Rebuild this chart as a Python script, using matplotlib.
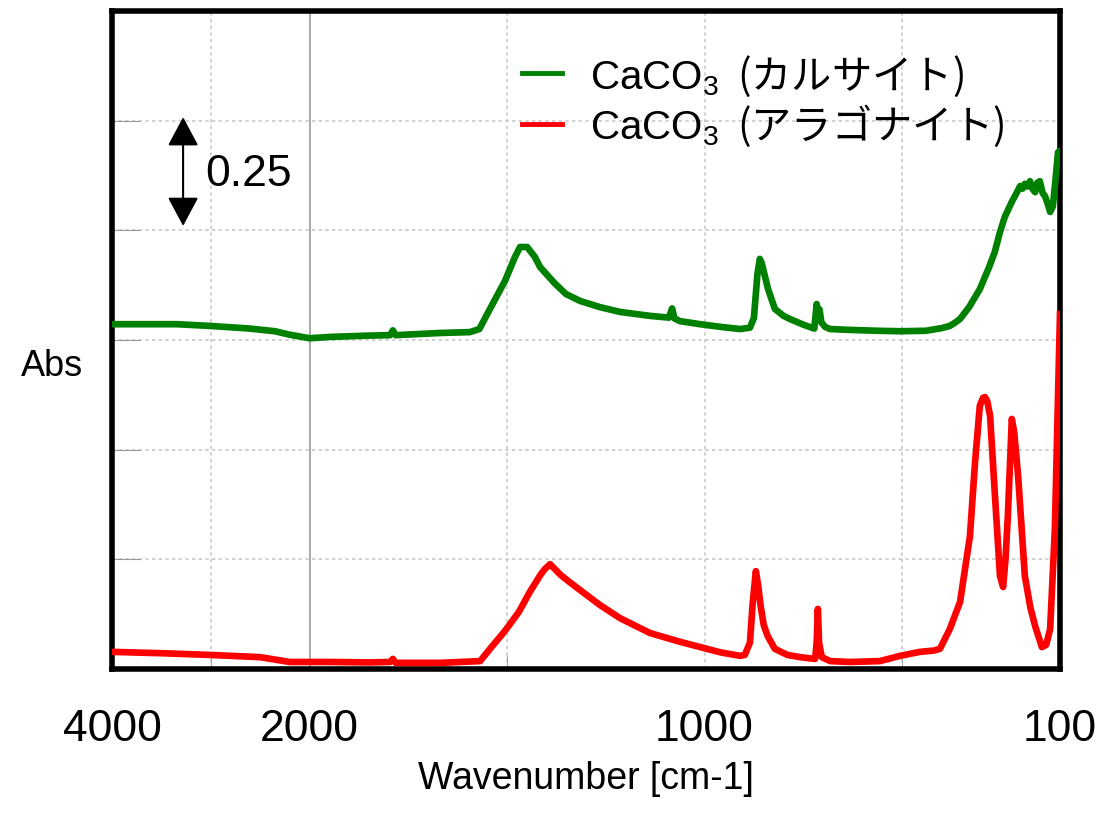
import numpy as np
import matplotlib
matplotlib.use("Agg")
import matplotlib.pyplot as plt
from matplotlib.font_manager import FontProperties

# ---------------- data ----------------
calcite_wn = [4000, 3340, 3000, 2600, 2350, 2200, 2000, 1948, 1850, 1796, 1789, 1782, 1670,
              1594, 1570, 1543, 1505, 1480, 1467, 1449, 1430, 1416, 1380, 1351, 1315, 1265,
              1214, 1138, 1090, 1082, 1076, 1062, 1011, 960, 910, 885, 875, 866, 860, 855, 847,
              839, 822, 800, 784, 750, 722, 716, 712, 709, 704, 695, 682, 632, 560, 505, 440,
              400, 379, 365, 353, 330, 303, 280, 265, 252, 240, 222, 210, 201, 195, 189, 183,
              176, 170, 163, 158, 151, 144, 138, 131, 125, 118, 112, 105, 100]
calcite_abs = [0.786, 0.786, 0.782, 0.776, 0.770, 0.762, 0.754, 0.757, 0.760, 0.761, 0.772,
               0.761, 0.766, 0.768, 0.775, 0.821, 0.885, 0.939, 0.962, 0.962, 0.940, 0.916,
               0.880, 0.855, 0.839, 0.825, 0.814, 0.805, 0.801, 0.822, 0.799, 0.793, 0.786,
               0.780, 0.775, 0.778, 0.800, 0.900, 0.935, 0.925, 0.895, 0.866, 0.821, 0.805,
               0.798, 0.785, 0.776, 0.832, 0.812, 0.820, 0.790, 0.780, 0.775, 0.773, 0.771,
               0.770, 0.771, 0.777, 0.782, 0.790, 0.798, 0.825, 0.866, 0.915, 0.951, 0.996,
               1.030, 1.065, 1.085, 1.101, 1.095, 1.106, 1.100, 1.112, 1.095, 1.087, 1.108,
               1.112, 1.085, 1.078, 1.060, 1.042, 1.055, 1.110, 1.178, 1.181]

aragonite_wn = [4000, 3500, 3000, 2500, 2200, 2000, 1948, 1850, 1796, 1789, 1782, 1670,
                1568, 1543, 1505, 1470, 1442, 1415, 1404, 1391, 1365, 1340, 1315, 1265, 1214,
                1138, 1062, 1011, 960, 910, 898, 885, 878, 870, 864, 858, 850, 840, 822, 790,
                758, 720, 716, 713, 710, 703, 682, 632, 556, 505, 455, 420, 404, 379, 353,
                328, 315, 303, 295, 290, 284, 277, 265, 252, 244, 238, 232, 226, 222, 216,
                206, 189, 175, 163, 153, 146, 135, 125, 113, 105, 100]
aragonite_abs = [0.039, 0.036, 0.032, 0.027, 0.016, 0.016, 0.016, 0.015, 0.016, 0.023,
                 0.014, 0.014, 0.018, 0.046, 0.087, 0.130, 0.176, 0.215, 0.228, 0.239, 0.215,
                 0.197, 0.180, 0.146, 0.116, 0.082, 0.062, 0.050, 0.038, 0.030, 0.032, 0.060,
                 0.150, 0.223, 0.190, 0.144, 0.100, 0.075, 0.046, 0.032, 0.027, 0.023, 0.060,
                 0.137, 0.060, 0.027, 0.018, 0.016, 0.018, 0.030, 0.039, 0.042, 0.046, 0.091,
                 0.153, 0.303, 0.472, 0.600, 0.618, 0.620, 0.610, 0.577, 0.400, 0.212, 0.187,
                 0.250, 0.349, 0.480, 0.570, 0.540, 0.440, 0.212, 0.140, 0.098, 0.070, 0.050,
                 0.055, 0.091, 0.319, 0.622, 0.809]

x_tick_values = [4000, 2000, 1000, 100]
x_tick_labels = ["4000", "2000", "1000", "100"]
x_grid_values = [3000, 2000, 1500, 1000, 500]
y_grid_values = [0.25, 0.5, 0.75, 1.0, 1.25]
legend_labels = [r"$\mathsf{CaCO}_3$  (カルサイト)", r"$\mathsf{CaCO}_3$  (アラゴナイト)"]
scale_bar_value = 0.25

# ---------------- fonts ----------------
base_font = "Liberation Sans"
cjk_font = "Noto Sans CJK JP"
plt.rcParams["font.family"] = [base_font, cjk_font, "DejaVu Sans"]
plt.rcParams["mathtext.fontset"] = "custom"
plt.rcParams["mathtext.rm"] = base_font
plt.rcParams["mathtext.it"] = base_font
plt.rcParams["mathtext.sf"] = base_font


def fwd(w):
    w = np.asarray(w, dtype=float)
    return np.where(w > 2000, 2000 + (w - 2000) / 4.0, w)


def inv(u):
    u = np.asarray(u, dtype=float)
    return np.where(u > 2000, 2000 + (u - 2000) * 4.0, u)


fig = plt.figure(figsize=(11.15, 8.2), dpi=100)
ax = fig.add_axes([112 / 1115, 1 - 670 / 820, 948 / 1115, 658 / 820])
ax.set_xscale("function", functions=(fwd, inv))
ax.set_xlim(4000, 100)
ax.set_ylim(0, 1.5)

for g in x_grid_values:
    if g == 2000:
        ax.axvline(g, color="#a8a8a8", lw=1.4, zorder=0)
    else:
        ax.axvline(g, color="#c8c8c8", lw=1.2, ls=(0, (2, 2)), zorder=0)
for g in y_grid_values:
    ax.axhline(g, color="#c8c8c8", lw=1.2, ls=(0, (2, 2)), zorder=0)

ax.plot(calcite_wn, calcite_abs, color="#008000", lw=4.8, label=legend_labels[0],
        solid_joinstyle="round", zorder=3)
ax.plot(aragonite_wn, aragonite_abs, color="#ff0000", lw=4.8, label=legend_labels[1],
        solid_joinstyle="round", zorder=3)

ax.set_xticks(x_tick_values)
ax.set_xticklabels(x_tick_labels, fontsize=32, family=base_font)
ax.set_xticks(x_grid_values, minor=True)
ax.set_yticks(y_grid_values)
ax.tick_params(axis="x", which="major", direction="in", length=0, pad=28)
ax.tick_params(axis="x", which="minor", direction="in", length=10, color="#999999")
ax.tick_params(axis="y", direction="in", length=20, color="#999999", labelleft=False)

for sp in ax.spines.values():
    sp.set_linewidth(4)
    sp.set_color("black")

ax.set_xlabel("Wavenumber [cm-1]", fontsize=27, family=base_font, labelpad=8)
fig.text(52 / 1115, 1 - 367 / 820, "Abs", fontsize=26, ha="center", va="center",
         family=base_font)

leg = ax.legend(loc="upper left", bbox_to_anchor=(0.432, 0.937), frameon=False,
                prop=FontProperties(family=cjk_font, size=29),
                handlelength=1.0, handletextpad=0.7, labelspacing=0.1,
                borderaxespad=0, borderpad=0)
for h in leg.get_lines():
    h.set_linewidth(3.5)

ax.annotate("", xy=(3280, 1.0 + scale_bar_value + 0.008), xytext=(3280, 1.0 + 0.01),
            arrowprops=dict(arrowstyle="<|-|>,head_length=0.6,head_width=0.32",
                            mutation_scale=30, lw=1.5, color="black",
                            shrinkA=0, shrinkB=0))
ax.text(3060, 1.13, f"{scale_bar_value:.2f}", fontsize=32, va="center", ha="left")

fig.savefig("out.png", dpi=100)
